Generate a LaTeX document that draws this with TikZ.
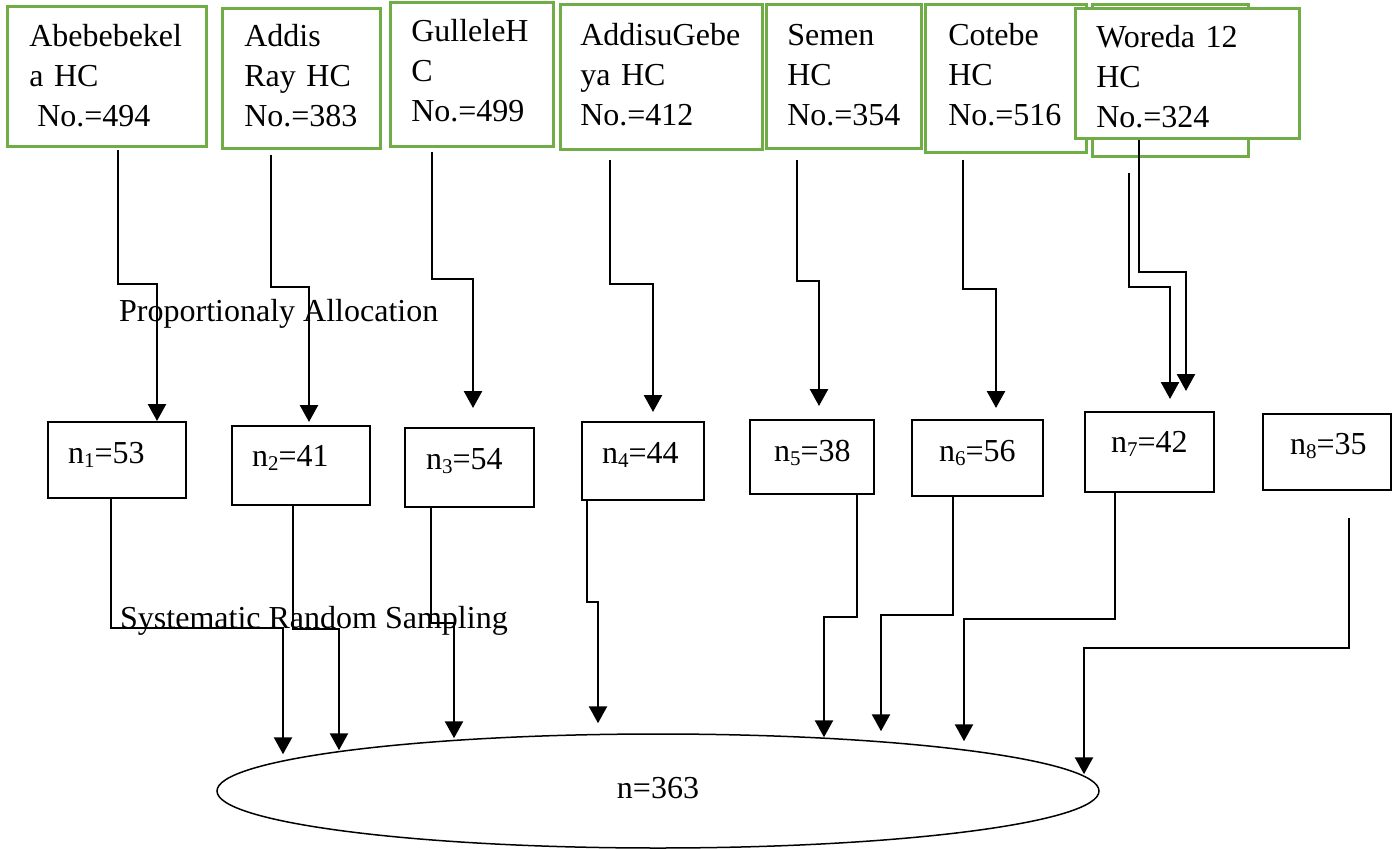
\documentclass[tikz,border=0pt]{standalone}
\usepackage{fontspec}
\setmainfont{Liberation Serif}
\usetikzlibrary{arrows.meta,shapes.geometric,calc}
\definecolor{boxgreen}{HTML}{70AD47}
\newcommand{\nsub}[1]{\raisebox{-4pt}{\fontsize{21}{21}\selectfont #1}}
\begin{document}
\begin{tikzpicture}[x=1pt,y=-1pt,
  every node/.style={font=\fontsize{32}{40}\selectfont},
  gbox/.style={draw=boxgreen, line width=2.5pt, fill=white, anchor=north west, inner ysep=0pt, align=left},
  kbox/.style={draw=black, line width=2pt, anchor=north west, inner ysep=0pt, align=left},
  arr/.style={draw=black, line width=2.5pt, -{Triangle[width=18pt,length=17pt]}},
  lbl/.style={anchor=base west, inner sep=0pt}]
\useasboundingbox (0,0) rectangle (1393,849);

% top boxes (health centres)
\node[gbox, inner xsep=22pt, text width=155pt, text height=40pt, text depth=100pt] (b1) at (6,5) {Abebebekel\\a HC\\\hspace*{0.25em}No.=494};
\node[gbox, inner xsep=22pt, text width=114pt, text height=38pt, text depth=102pt] (b2) at (221,7) {Addis\\Ray HC\\No.=383};
\node[gbox, inner xsep=21pt, text width=121pt, text height=39pt, text depth=105pt] (b3) at (389,1) {GulleleH\\C\\No.=499};
\node[gbox, inner xsep=20pt, text width=162pt, text height=41pt, text depth=104pt] (b4) at (559,3) {AddisuGebe\\ya HC\\No.=412};
\node[gbox, inner xsep=21pt, text width=113pt, text height=41pt, text depth=103pt] (b5) at (765,3) {Semen\\HC\\No.=354};
\node[gbox, inner xsep=23pt, text width=115pt, text height=41pt, text depth=107pt] (b6) at (924,3) {Cotebe\\HC\\No.=516};
\node[gbox, minimum width=156pt, minimum height=152pt, inner sep=0pt] (b7b) at (1091,3) {};
\node[gbox, inner xsep=21pt, text width=182pt, text height=39pt, text depth=91pt] (b7) at (1074,7) {Woreda 12\\HC\\No.=324};

% sample size boxes
\node[kbox, inner xsep=20pt, text width=98pt, text height=41pt, text depth=35pt] (n1) at (47,421) {n\nsub{1}=53};
\node[kbox, inner xsep=20pt, text width=98pt, text height=40pt, text depth=39pt] (n2) at (231,425) {n\nsub{2}=41};
\node[kbox, inner xsep=21pt, text width=87pt, text height=41pt, text depth=38pt] (n3) at (404,427) {n\nsub{3}=54};
\node[kbox, inner xsep=20pt, text width=82pt, text height=41pt, text depth=37pt] (n4) at (581,421) {n\nsub{4}=44};
\node[kbox, inner xsep=24pt, text width=76pt, text height=41pt, text depth=33pt] (n5) at (749,419) {n\nsub{5}=38};
\node[kbox, inner xsep=27pt, text width=77pt, text height=41pt, text depth=35pt] (n6) at (911,419) {n\nsub{6}=56};
\node[kbox, inner xsep=26pt, text width=77pt, text height=40pt, text depth=40pt] (n7) at (1084,411) {n\nsub{7}=42};
\node[kbox, inner xsep=27pt, text width=74pt, text height=40pt, text depth=36pt] (n8) at (1262,413) {n\nsub{8}=35};

% total
\node[draw, ellipse, line width=1.5pt, minimum width=882pt, minimum height=114pt, inner sep=0pt, text height=22pt, text depth=8pt] (E) at (658,791) {n=363};

% labels
\node[lbl] (pa) at (119,321) {Proportionaly Allocation};
\node[lbl] (srs) at (120,628) {Systematic Random Sampling};

% free ends
\coordinate (w7) at (1129,173);
\coordinate (s8) at (1349,518);

% top -> middle connectors
\draw[arr] ($(b1.south -| 118,0)+(0,2)$) |- (157,284) -- (n1.north -| 157,0);
\draw[arr] ($(b2.south -| 271,0)+(0,5)$) |- (309,287) -- ($(n2.north -| 309,0)+(0,-3)$);
\draw[arr] ($(b3.south -| 432,0)+(0,4)$) |- (473,279) -- ($(n3.north -| 473,0)+(0,-19)$);
\draw[arr] ($(b4.south -| 610,0)+(0,9)$) |- (653,284) -- ($(n4.north -| 653,0)+(0,-9)$);
\draw[arr] ($(b5.south -| 797,0)+(0,10)$) |- (819,281) -- ($(n5.north -| 819,0)+(0,-13)$);
\draw[arr] ($(b6.south -| 963,0)+(0,6)$) |- (996,289) -- ($(n6.north -| 996,0)+(0,-11)$);
\draw[arr] (b7.south -| 1139,0) |- (1186,272) -- ($(n7.north -| 1186,0)+(0,-20)$);
\draw[arr] (w7) |- (1170,287) -- ($(n7.north -| 1170,0)+(0,-12)$);

% middle -> total connectors
\draw[arr] (n1.south -| 111,0) |- (283,628) -- ($(E.north)+(-375,21)$);
\draw[arr] (n2.south -| 293,0) |- (339,629) -- ($(E.north)+(-319,17)$);
\draw[arr] (n3.south -| 431,0) |- (454,623) -- ($(E.north)+(-204,5)$);
\draw[arr] (n4.south -| 587,0) |- (598,602) -- ($(E.north)+(-60,-10)$);
\draw[arr] (n5.south -| 857,0) |- (824,617) -- ($(E.north)+(166,4)$);
\draw[arr] (n6.south -| 953,0) |- (881,615) -- ($(E.north)+(223,-2)$);
\draw[arr] (n7.south -| 1115,0) |- (964,619) -- ($(E.north)+(306,8)$);
\draw[arr] (s8) |- (1084,648) -- ($(E.north)+(426,41)$);
\end{tikzpicture}
\end{document}
